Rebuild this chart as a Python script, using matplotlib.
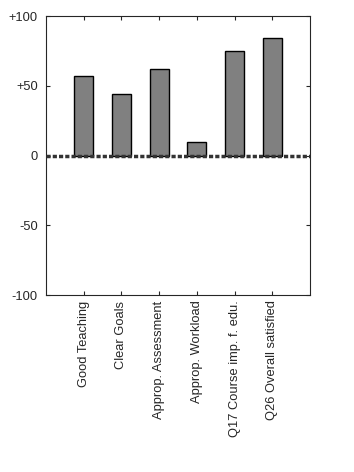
import numpy as np
import matplotlib
matplotlib.use('Agg')
from matplotlib import pyplot as plt

categories = ['Good Teaching', 'Clear Goals', 'Approp. Assessment',
              'Approp. Workload', 'Q17 Course imp. f. edu.', 'Q26 Overall satisfied']
values = [57, 44, 62, 10, 75, 84]
yticks = [-100, -50, 0, 50, 100]
ytick_labels = ['-100', '-50', '0', '+50', '+100']

plt.rcParams['font.family'] = ['Liberation Sans', 'DejaVu Sans']
text_col = '#262626'

fig = plt.figure(figsize=(3.54, 4.72), dpi=100)
ax = fig.add_axes([0.130, 0.375, 0.746, 0.591])

x = np.arange(1, len(categories) + 1)
ax.bar(x, values, width=0.5, color='#808080', edgecolor='black', linewidth=1.0, zorder=2)
ax.axhline(0, color='#333333', linewidth=2.5, dashes=(1.2, 0.6), zorder=3)

ax.set_xlim(0, len(categories) + 1)
ax.set_ylim(-100, 100)
ax.set_xticks(x)
ax.set_xticklabels(categories, rotation=90, fontsize=9.3, color=text_col)
ax.set_yticks(yticks)
ax.set_yticklabels(ytick_labels, fontsize=9.3, color=text_col)
ax.tick_params(direction='in', length=3, width=0.8, top=True, right=True,
               color=text_col, pad=4)
ax.tick_params(axis='y', pad=6)
for s in ax.spines.values():
    s.set_color(text_col)
    s.set_linewidth(0.8)

fig.savefig('out.png', dpi=100)
